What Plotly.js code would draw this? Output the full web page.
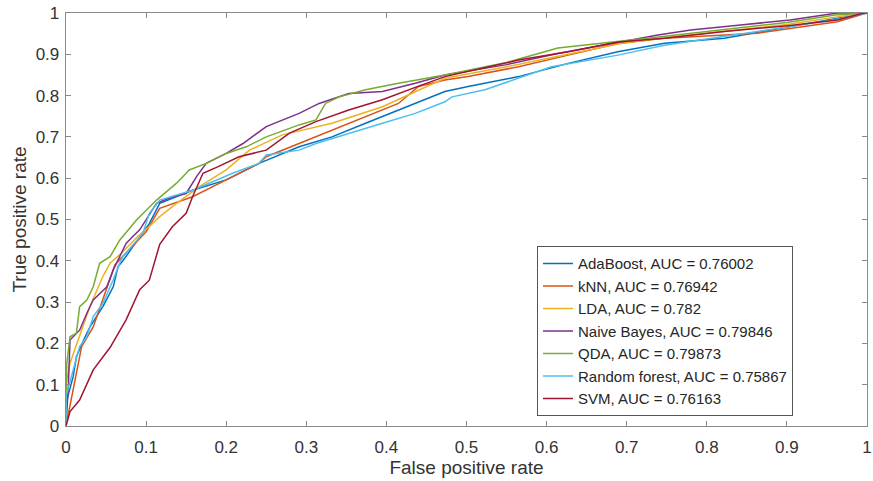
<!DOCTYPE html>
<html>
<head>
<meta charset="utf-8">
<script src="https://cdn.plot.ly/plotly-3.0.1.min.js"></script>
<style>html,body{margin:0;padding:0;background:#fff;}#chart{width:873px;height:481px;}</style>
</head>
<body>
<div id="chart"></div>
<script>
// Series names and colours
const names = ["AdaBoost, AUC = 0.76002", "kNN, AUC = 0.76942", "LDA, AUC = 0.782",
  "Naive Bayes, AUC = 0.79846", "QDA, AUC = 0.79873", "Random forest, AUC = 0.75867", "SVM, AUC = 0.76163"];
const colors = ["#0072BD", "#D95319", "#EDB120", "#7E2F8E", "#77AC30", "#4DBEEE", "#A2142F"];

// AdaBoost
const adaX = [0, 0, 0.009, 0.013, 0.022, 0.03, 0.038, 0.046, 0.059, 0.065, 0.071, 0.096, 0.104, 0.117, 0.158, 0.2, 0.241, 0.291, 0.332, 0.374, 0.415, 0.473, 0.502, 0.565, 0.627, 0.689, 0.747, 0.822, 0.904, 0.963, 1];
const adaY = [0, 0.055, 0.12, 0.168, 0.208, 0.24, 0.265, 0.289, 0.337, 0.386, 0.40, 0.467, 0.49, 0.539, 0.571, 0.596, 0.636, 0.676, 0.70, 0.733, 0.765, 0.81, 0.822, 0.846, 0.878, 0.906, 0.927, 0.939, 0.967, 0.987, 1];
// kNN
const knnX = [0, 0.0195, 0.034, 0.061, 0.08, 0.1, 0.117, 0.158, 0.2, 0.241, 0.25, 0.332, 0.415, 0.44, 0.473, 0.502, 0.565, 0.627, 0.689, 0.747, 0.78, 0.863, 0.963, 1];
const knnY = [0, 0.192, 0.24, 0.39, 0.43, 0.47, 0.527, 0.555, 0.596, 0.636, 0.652, 0.717, 0.781, 0.822, 0.838, 0.846, 0.87, 0.898, 0.926, 0.939, 0.942, 0.951, 0.979, 1];
// LDA
const ldaX = [0, 0, 0.005, 0.017, 0.03, 0.046, 0.055, 0.07, 0.09, 0.104, 0.117, 0.138, 0.167, 0.2, 0.229, 0.27, 0.332, 0.395, 0.473, 0.55, 0.627, 0.689, 0.747, 0.82, 0.9, 0.96, 1];
const ldaY = [0, 0.1, 0.152, 0.22, 0.29, 0.362, 0.394, 0.42, 0.46, 0.483, 0.507, 0.539, 0.58, 0.62, 0.668, 0.705, 0.733, 0.773, 0.842, 0.87, 0.9, 0.925, 0.94, 0.955, 0.972, 0.99, 1];
// Naive Bayes
const nbX = [0, 0.003, 0.005, 0.017, 0.026, 0.034, 0.051, 0.059, 0.067, 0.075, 0.084, 0.092, 0.113, 0.133, 0.15, 0.163, 0.175, 0.2, 0.221, 0.25, 0.291, 0.316, 0.353, 0.395, 0.436, 0.473, 0.55, 0.614, 0.739, 0.78, 0.842, 0.904, 0.963, 1];
const nbY = [0, 0.1, 0.208, 0.232, 0.273, 0.305, 0.337, 0.378, 0.41, 0.442, 0.46, 0.475, 0.539, 0.555, 0.563, 0.604, 0.636, 0.66, 0.684, 0.725, 0.757, 0.781, 0.805, 0.81, 0.83, 0.85, 0.875, 0.902, 0.947, 0.959, 0.971, 0.983, 1.0, 1];
// QDA
const qdaX = [0, 0, 0.001, 0.005, 0.013, 0.017, 0.026, 0.034, 0.042, 0.055, 0.067, 0.088, 0.113, 0.138, 0.154, 0.175, 0.2, 0.225, 0.25, 0.291, 0.312, 0.324, 0.341, 0.374, 0.415, 0.473, 0.55, 0.614, 0.745, 0.9, 0.96, 1];
const qdaY = [0, 0.08, 0.152, 0.216, 0.225, 0.289, 0.305, 0.337, 0.394, 0.41, 0.45, 0.499, 0.547, 0.588, 0.62, 0.636, 0.66, 0.676, 0.70, 0.729, 0.741, 0.781, 0.797, 0.814, 0.83, 0.85, 0.88, 0.915, 0.943, 0.977, 0.995, 1];
// Random forest
const rfX = [0, 0, 0.009, 0.017, 0.026, 0.034, 0.046, 0.059, 0.067, 0.071, 0.096, 0.104, 0.117, 0.158, 0.208, 0.241, 0.25, 0.291, 0.312, 0.353, 0.395, 0.436, 0.473, 0.482, 0.523, 0.606, 0.689, 0.747, 0.822, 0.904, 0.963, 1];
const rfY = [0, 0.071, 0.136, 0.192, 0.216, 0.265, 0.297, 0.354, 0.394, 0.41, 0.467, 0.515, 0.547, 0.571, 0.612, 0.636, 0.656, 0.668, 0.684, 0.709, 0.733, 0.757, 0.785, 0.797, 0.814, 0.87, 0.898, 0.922, 0.943, 0.967, 0.985, 1];
// SVM
const svmX = [0, 0.005, 0.017, 0.034, 0.055, 0.075, 0.092, 0.104, 0.117, 0.133, 0.15, 0.158, 0.171, 0.19, 0.216, 0.25, 0.279, 0.312, 0.353, 0.395, 0.436, 0.473, 0.565, 0.627, 0.689, 0.747, 0.822, 0.904, 0.963, 0.996, 1];
const svmY = [0, 0.035, 0.063, 0.136, 0.19, 0.257, 0.33, 0.353, 0.44, 0.483, 0.515, 0.555, 0.612, 0.628, 0.652, 0.668, 0.709, 0.737, 0.765, 0.79, 0.82, 0.846, 0.886, 0.906, 0.93, 0.939, 0.955, 0.97, 0.983, 1, 1];

const xs = [adaX, knnX, ldaX, nbX, qdaX, rfX, svmX];
const ys = [adaY, knnY, ldaY, nbY, qdaY, rfY, svmY];

const traces = names.map((n, i) => ({
  type: "scatter", mode: "lines", name: n, x: xs[i], y: ys[i],
  line: {color: colors[i], width: 1.5}
}));

const tickVals = [0, 0.1, 0.2, 0.3, 0.4, 0.5, 0.6, 0.7, 0.8, 0.9, 1];
const tickText = ["0", "0.1", "0.2", "0.3", "0.4", "0.5", "0.6", "0.7", "0.8", "0.9", "1"];

const axisCommon = {
  range: [0, 1], tickvals: tickVals, ticktext: tickText,
  showgrid: false, zeroline: false, showline: true, mirror: "ticks",
  linecolor: "#8a8a8a", linewidth: 1.3, ticks: "inside", ticklen: 5, tickcolor: "#8a8a8a",
  ticklabeloverflow: "allow",
  tickfont: {family: "Liberation Sans, Arial, sans-serif", size: 17, color: "#333333"}
};

const layout = {
  width: 873, height: 481,
  margin: {l: 66, r: 6, t: 13, b: 55},
  paper_bgcolor: "#ffffff", plot_bgcolor: "#ffffff",
  font: {family: "Liberation Sans, Arial, sans-serif", color: "#333333"},
  showlegend: true,
  xaxis: Object.assign({}, axisCommon, {
    ticklabelstandoff: 5,
    title: {text: "False positive rate", font: {size: 19, color: "#333333"}, standoff: 4}
  }),
  yaxis: Object.assign({}, axisCommon, {
    ticklabelstandoff: 2,
    title: {text: "True positive rate", font: {size: 19, color: "#333333"}, standoff: 4}
  }),
  legend: {
    x: 0.588, y: 0.435, xanchor: "left", yanchor: "top",
    bgcolor: "#ffffff", bordercolor: "#555555", borderwidth: 1,
    font: {size: 15, color: "#262626"}, itemwidth: 30, tracegroupgap: 0
  }
};

Plotly.newPlot("chart", traces, layout, {displayModeBar: false, staticPlot: true});
</script>
</body>
</html>
